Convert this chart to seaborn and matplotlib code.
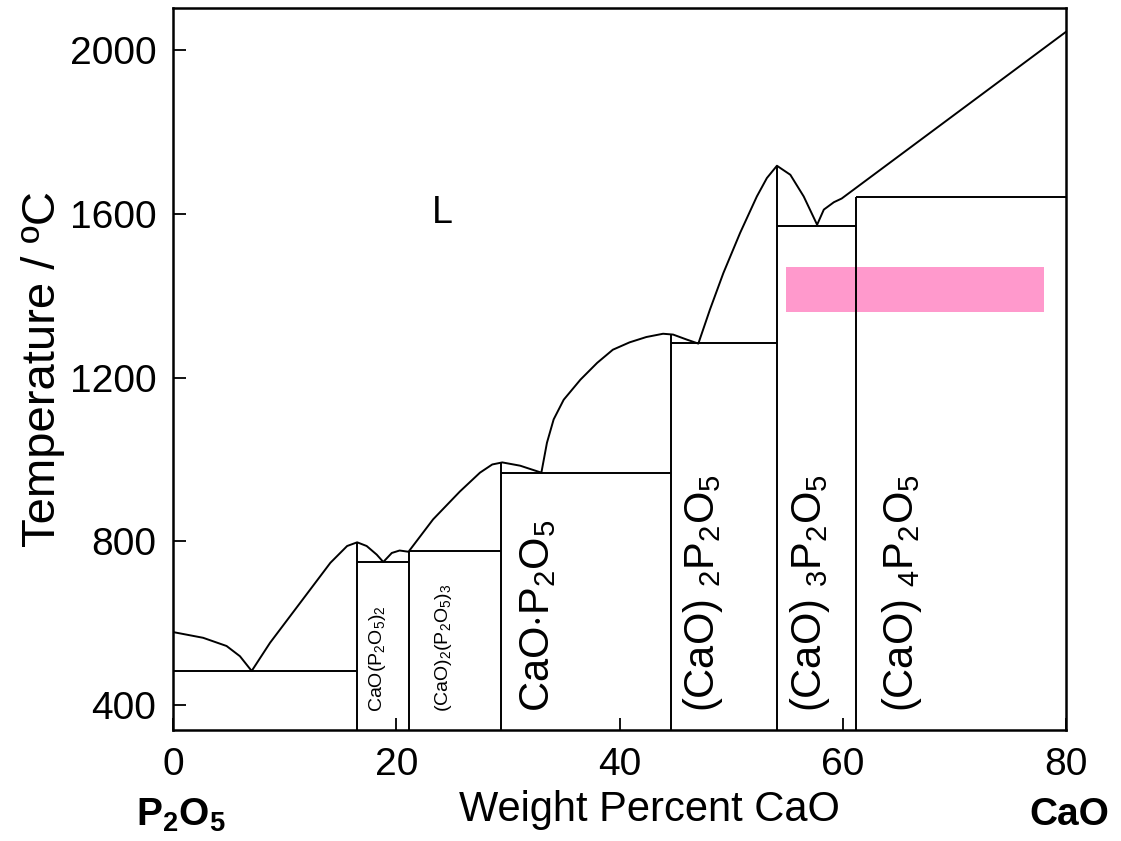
"""
CaO - P2O5 phase diagram
"""

import matplotlib
matplotlib.use("Agg")
import matplotlib.pyplot as plt
import seaborn as sns
import pandas as pd

# liquidus curve (wt% CaO, temperature C)
liq_x = [0, 2.7, 4.8, 6.0, 7.05, 8.7, 10.5, 12.3, 14.1, 15.6, 16.5, 17.35, 18.25, 18.84,
         19.6, 20.3, 21.1, 23.3, 25.7, 27.5, 28.6, 29.5, 31.1, 33.0, 33.5, 34.1, 35.0,
         36.5, 38.0, 39.4, 40.9, 42.4, 43.9, 44.8, 46.0, 47.06, 48.1, 49.3, 50.8, 52.3,
         53.2, 54.1, 55.3, 56.5, 57.7, 58.3, 59.2, 59.9, 80]
liq_t = [579, 565, 545, 520, 484, 553, 618, 683, 748, 789, 798, 789, 768, 750,
         772, 778, 775, 854, 922, 968, 988, 993, 985, 968, 1041, 1098, 1146,
         1195, 1236, 1268, 1286, 1299, 1307, 1305, 1293, 1283, 1366, 1455, 1553, 1642,
         1687, 1717, 1695, 1642, 1573, 1610, 1628, 1637, 2044]

# horizontal invariant lines
hl_t = [485, 751, 776, 968, 1284, 1571, 1641]
hl_x0 = [0, 16.5, 21.1, 29.4, 44.6, 54.1, 61.2]
hl_x1 = [16.5, 21.1, 29.4, 44.6, 54.1, 61.2, 80]

# compound compositions and top of their vertical lines
comp_x = [16.5, 21.1, 29.4, 44.6, 54.1, 61.2]
comp_top = [798, 776, 993, 1305, 1717, 1641]

# compound labels
lab_text = [r"CaO(P$_2$O$_5$)$_2$", r"(CaO)$_2$(P$_2$O$_5$)$_3$", r"CaO$\cdot$P$_2$O$_5$",
            r"(CaO) $_2$P$_2$O$_5$", r"(CaO) $_3$P$_2$O$_5$", r"(CaO) $_4$P$_2$O$_5$"]
lab_x = [18.3, 24.2, 32.7, 47.5, 57.1, 65.3]
lab_size = [14, 14, 30, 30, 30, 30]

# highlighted band
band_x = [54.9, 78.0]
band_t = [1359, 1471]

sns.set_theme(style="white")
plt.rcParams["font.family"] = ["Liberation Sans", "DejaVu Sans"]
plt.rcParams["mathtext.fontset"] = "custom"
plt.rcParams["mathtext.rm"] = "Liberation Sans"
plt.rcParams["mathtext.bf"] = "Liberation Sans:bold"
plt.rcParams["mathtext.it"] = "Liberation Sans"
plt.rcParams["text.color"] = "black"
plt.rcParams["axes.labelcolor"] = "black"
plt.rcParams["xtick.color"] = "black"
plt.rcParams["ytick.color"] = "black"

fig = plt.figure(figsize=(11.21, 8.41), dpi=100)
ax = fig.add_axes([0.1543, 0.132, 0.7967, 0.8585])

liq = pd.DataFrame({"x": liq_x, "t": liq_t})
sns.lineplot(data=liq, x="x", y="t", sort=False, estimator=None, color="black", lw=1.4, ax=ax)

ax.hlines(hl_t, hl_x0, hl_x1, color="black", lw=1.4)
ax.vlines(comp_x, 340, comp_top, color="black", lw=1.4)

ax.fill_between(band_x, band_t[0], band_t[1], color="#ff99cc", lw=0, zorder=0)

for s, x, fs in zip(lab_text, lab_x, lab_size):
    ax.text(x, 383, s, rotation=90, ha="center", va="bottom", fontsize=fs)

ax.text(24.1, 1602, "L", ha="center", va="center", fontsize=27)

ax.set_xlim(0, 80)
ax.set_ylim(340, 2102)
ax.set_xticks([0, 20, 40, 60, 80])
ax.set_yticks([400, 800, 1200, 1600, 2000])
ax.tick_params(axis="both", direction="in", length=9, width=1.3, labelsize=28,
               bottom=True, left=True, top=False, right=False)
ax.tick_params(axis="x", pad=12)
ax.tick_params(axis="y", pad=12)
for sp in ax.spines.values():
    sp.set_color("black")
    sp.set_linewidth(1.8)

ax.set_xlabel("Weight Percent CaO", fontsize=30)
ax.xaxis.set_label_coords(0.533, -0.083)
ax.set_ylabel("Temperature / ºC", fontsize=34)
ax.yaxis.set_label_coords(-0.121, 0.5)

fig.text(181 / 1121, 1 - 815 / 841, r"$\mathbf{P_2O_5}$", ha="center", va="center",
         fontsize=28, fontweight="bold")
fig.text(1069 / 1121, 1 - 815 / 841, "CaO", ha="center", va="center",
         fontsize=28, fontweight="bold")

fig.savefig("out.png", dpi=100)
